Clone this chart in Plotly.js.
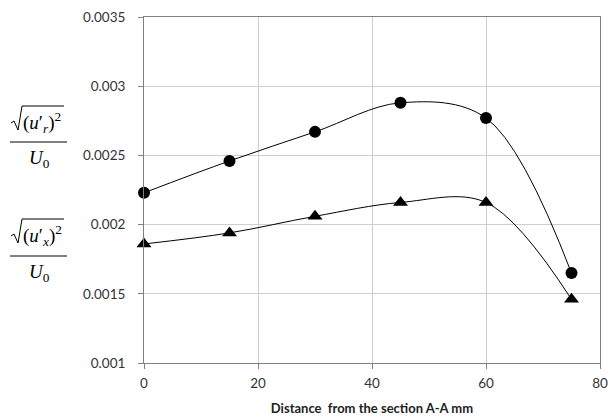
<!DOCTYPE html>
<html>
<head>
<meta charset="utf-8">
<script src="https://cdn.plot.ly/plotly-3.0.1.min.js"></script>
<style>html,body{margin:0;padding:0;background:#fff;}#chart{width:608px;height:419px;}</style>
</head>
<body>
<div id="chart"></div>
<script>
// Data
const distance = [0, 15, 30, 45, 60, 75];
const radialIntensity = [0.00223, 0.00246, 0.00267, 0.00288, 0.00277, 0.00165];
const axialIntensity = [0.00186, 0.00194, 0.00206, 0.00216, 0.00216, 0.00146];
const xTicks = [0, 20, 40, 60, 80];
const yTicks = [0.001, 0.0015, 0.002, 0.0025, 0.003, 0.0035];
const yTickLabels = ['0.001', '0.0015', '0.002', '0.0025', '0.003', '0.0035'];

// Plot geometry (pixels) for placing the left-side formula labels
const W = 608, H = 419, L = 144, R = 8, T = 17, B = 56;
const pw = W - L - R, ph = H - T - B;
const px = x => (x - L) / pw;
const py = y => (H - B - y) / ph;
const serif = 'Liberation Serif';

function formula(sub, yOver, yNum, yBar, yDen) {
  const shapes = [
    {type: 'path', xref: 'paper', yref: 'paper',
     path: `M ${px(11)} ${py(yNum + 1)} L ${px(14)} ${py(yNum - 1)} L ${px(18)} ${py(yNum + 8)} L ${px(22)} ${py(yOver)} L ${px(64)} ${py(yOver)}`,
     line: {color: '#000', width: 1}},
    {type: 'line', xref: 'paper', yref: 'paper',
     x0: px(10), x1: px(67), y0: py(yBar), y1: py(yBar),
     line: {color: '#000', width: 1}}
  ];
  const anns = [
    {xref: 'paper', yref: 'paper', x: px(42), y: py(yNum), xanchor: 'center', yanchor: 'middle',
     text: `(<i>u</i>′<sub><i>${sub}</i></sub>)<sup>2</sup>`, showarrow: false,
     font: {family: serif, size: 19, color: '#000'}},
    {xref: 'paper', yref: 'paper', x: px(39), y: py(yDen), xanchor: 'center', yanchor: 'middle',
     text: '<i>U</i><sub>0</sub>', showarrow: false,
     font: {family: serif, size: 19, color: '#000'}}
  ];
  return {shapes, anns};
}
const f1 = formula('r', 106, 122, 142, 159);
const f2 = formula('x', 219, 235, 256, 273);

const traces = [
  {x: distance, y: radialIntensity, type: 'scatter', mode: 'lines+markers',
   line: {color: '#000', width: 1, shape: 'spline', smoothing: 1},
   marker: {symbol: 'circle', size: 12, color: '#000'}, cliponaxis: false},
  {x: distance, y: axialIntensity, type: 'scatter', mode: 'lines+markers',
   line: {color: '#000', width: 1, shape: 'spline', smoothing: 1},
   marker: {symbol: 'triangle-up', size: 13, color: '#000'}, cliponaxis: false}
];

const layout = {
  width: W, height: H,
  margin: {l: L, r: R, t: T, b: B},
  paper_bgcolor: '#fff', plot_bgcolor: '#fff',
  showlegend: false,
  font: {family: 'Lato', size: 13, color: '#333'},
  xaxis: {
    range: [0, 80], tickvals: xTicks, ticktext: xTicks.map(String),
    showgrid: true, gridcolor: '#cfcfcf', gridwidth: 1,
    showline: true, linecolor: '#808080', linewidth: 1, mirror: true,
    ticks: 'outside', ticklen: 5, tickcolor: '#808080',
    zeroline: false, tickfont: {size: 13.5, color: '#333'}, ticklabelstandoff: 3,
    title: {text: '<b>Distance\u00a0 from the section A-A mm</b>', standoff: 13,
            font: {size: 13, color: '#222'}}
  },
  yaxis: {
    range: [0.001, 0.0035], tickvals: yTicks, ticktext: yTickLabels,
    showgrid: true, gridcolor: '#cfcfcf', gridwidth: 1,
    showline: true, linecolor: '#808080', linewidth: 1, mirror: true,
    ticks: 'outside', ticklen: 5, tickcolor: '#808080',
    zeroline: false, tickfont: {size: 13.5, color: '#333'}, ticklabelstandoff: 10
  },
  shapes: f1.shapes.concat(f2.shapes),
  annotations: f1.anns.concat(f2.anns)
};

Plotly.newPlot('chart', traces, layout, {staticPlot: true, displayModeBar: false});
</script>
</body>
</html>
